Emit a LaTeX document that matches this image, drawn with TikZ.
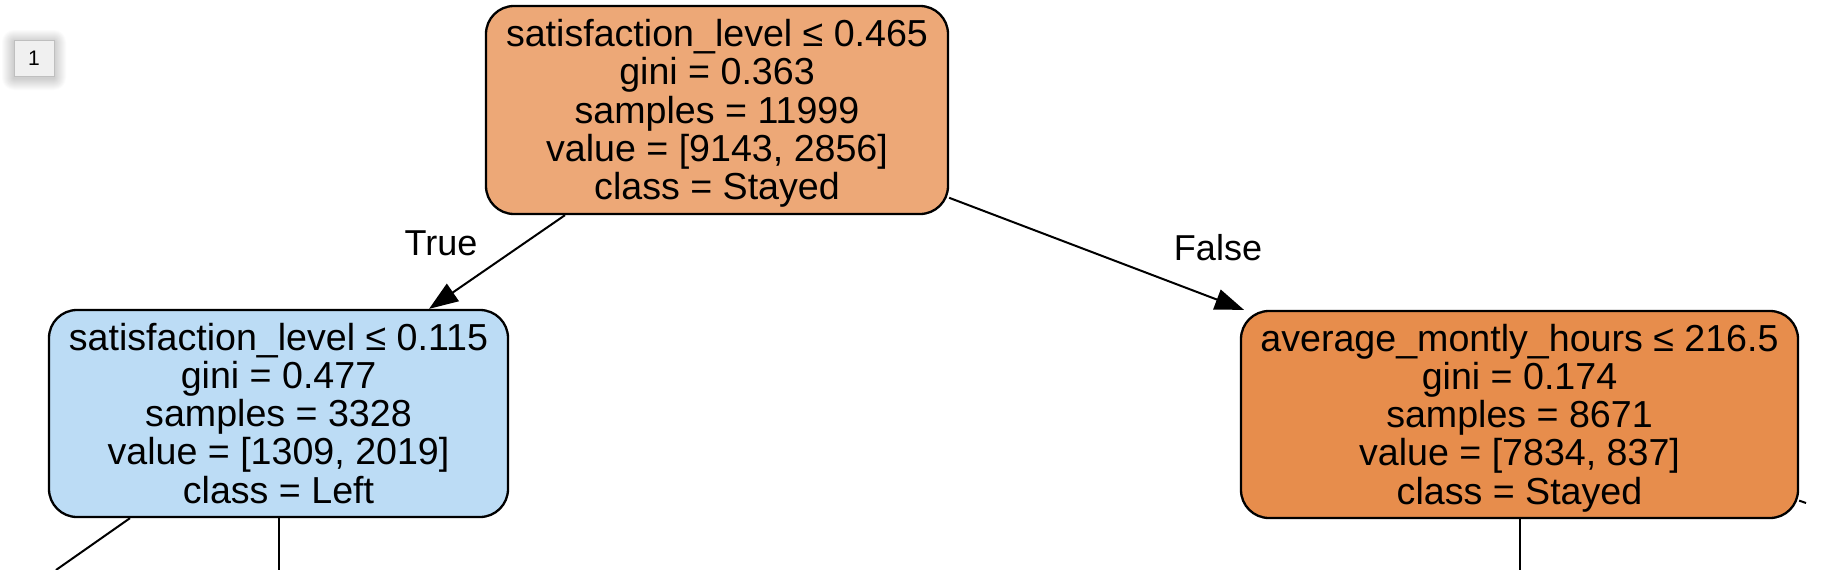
\documentclass[tikz,border=0pt]{standalone}
\usepackage{fontspec}
\setmainfont{Liberation Sans}
\usetikzlibrary{arrows.meta}
\definecolor{rootc}{HTML}{EDA877}
\definecolor{leftc}{HTML}{BCDCF5}
\definecolor{rightc}{HTML}{E78D4C}
\definecolor{tabc}{HTML}{F0F0F0}
\newcommand{\treetext}[1]{\raisebox{-5pt}[\height][\depth]{\begin{tabular}{@{}c@{}}#1\end{tabular}}}
\tikzset{
  treenode/.style={draw=black, line width=2.3pt, rounded corners=28pt,
    inner sep=0pt, font=\fontsize{37.6}{36.5}\selectfont},
  edgeline/.style={line width=2pt, draw=black},
  arrowedge/.style={edgeline, -{Triangle[length=29pt,width=21pt]}},
  edgelabel/.style={font=\fontsize{36}{40}\selectfont, inner sep=0pt},
  tabbox/.style={draw=black!25, fill=tabc, line width=1pt, minimum width=40pt, minimum height=36pt,
    inner sep=0pt, font=\fontsize{21}{24}\selectfont}
}
\begin{document}
\begin{tikzpicture}[x=1pt,y=-1pt]
\useasboundingbox (0,0) rectangle (1834,570);
\fill[white] (0,0) rectangle (1834,570);
\begin{scope}
\clip (0,0) rectangle (1834,570);
% shadow of tab
\foreach \e in {1,2,...,12}{
  \fill[black, opacity=0.016, rounded corners=\e pt] (14-\e,40-\e+2) rectangle (54+\e,76+\e+2);
}
\node[tabbox] (tab) at (34,58) {1};

\node[treenode, fill=rootc, minimum width=462pt, minimum height=208pt] (root) at (717,110)
  {\treetext{satisfaction\_level ≤ 0.465\\gini = 0.363\\samples = 11999\\value = [9143, 2856]\\class = Stayed}};
\node[treenode, fill=leftc, minimum width=459pt, minimum height=207pt] (left) at (278.5,413.5)
  {\treetext{satisfaction\_level ≤ 0.115\\gini = 0.477\\samples = 3328\\value = [1309, 2019]\\class = Left}};
\node[treenode, fill=rightc, minimum width=557pt, minimum height=207pt] (right) at (1519.5,414.5)
  {\treetext{average\_montly\_hours ≤ 216.5\\gini = 0.174\\samples = 8671\\value = [7834, 837]\\class = Stayed}};

\draw[arrowedge] (root) -- (left);
\draw[arrowedge] (root) -- (right);
\node[edgelabel] (tlabel) at (441,243) {True};
\node[edgelabel] (flabel) at (1218,248) {False};

\coordinate (llc) at (56,570);
\coordinate (lmc) at (278.5,575);
\coordinate (rmc) at (1519.5,575);
\coordinate (rrc) at (1806,503);
\draw[edgeline] (left) -- (llc);
\draw[edgeline] (left) -- (lmc);
\draw[edgeline] (right) -- (rmc);
\draw[edgeline] (right) -- (rrc);
\end{scope}
\end{tikzpicture}
\end{document}
